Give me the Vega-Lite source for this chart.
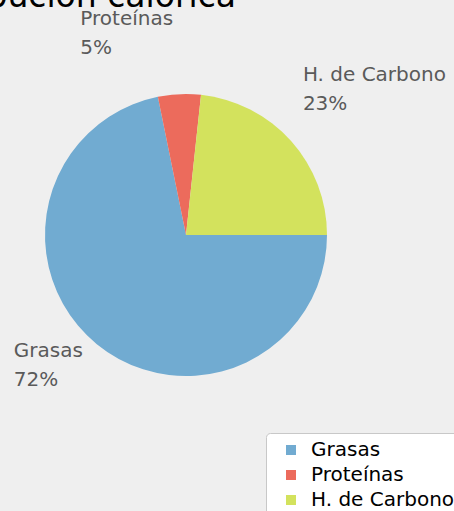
{
  "$schema": "https://vega.github.io/schema/vega-lite/v6.json",
  "width": 372,
  "height": 470,
  "autosize": {"type": "none"},
  "padding": {"left": 0, "top": 0, "right": 82, "bottom": 41},
  "background": "#efefef",
  "title": {
    "text": "Distribución calórica",
    "anchor": "start",
    "frame": "group",
    "orient": "top",
    "fontSize": 33,
    "font": "DejaVu Sans",
    "fontWeight": "normal",
    "color": "#000000",
    "baseline": "alphabetic",
    "offset": 0,
    "dx": -101,
    "dy": 40
  },
  "data": {
    "values": [
      {"categoria": "Grasas", "valor": 71.8, "orden": 1, "etiqueta": "Grasas\n72%"},
      {"categoria": "Proteínas", "valor": 4.9, "orden": 2, "etiqueta": "Proteínas\n5%"},
      {"categoria": "H. de Carbono", "valor": 23.3, "orden": 3, "etiqueta": "H. de Carbono\n23%"}
    ]
  },
  "encoding": {
    "theta": {"field": "valor", "type": "quantitative", "stack": true, "scale": {"range": [1.5708, 7.854]}},
    "order": {"field": "orden", "type": "quantitative"}
  },
  "layer": [
    {
      "mark": {"type": "arc", "outerRadius": 141},
      "encoding": {
        "color": {
          "field": "categoria",
          "type": "nominal",
          "sort": null,
          "scale": {"domain": ["Grasas", "Proteínas", "H. de Carbono"], "range": ["#71abd1", "#ec6b5c", "#d3e25d"]},
          "legend": {"title": null}
        }
      }
    },
    {
      "mark": {"type": "text", "radius": 141, "align": "left", "baseline": "alphabetic", "dx": -99, "dy": -69, "lineBreak": "\n", "lineHeight": 29, "fontSize": 20, "font": "DejaVu Sans", "color": "#5a5a5a"},
      "encoding": {
        "detail": {"field": "categoria", "type": "nominal"},
        "text": {"condition": {"test": "datum.categoria === 'Proteínas'", "field": "etiqueta"}, "value": ""}
      }
    },
    {
      "mark": {"type": "text", "radius": 141, "align": "left", "baseline": "alphabetic", "dx": 12, "dy": -60, "lineBreak": "\n", "lineHeight": 29, "fontSize": 20, "font": "DejaVu Sans", "color": "#5a5a5a"},
      "encoding": {
        "detail": {"field": "categoria", "type": "nominal"},
        "text": {"condition": {"test": "datum.categoria === 'H. de Carbono'", "field": "etiqueta"}, "value": ""}
      }
    },
    {
      "mark": {"type": "text", "radius": 141, "align": "left", "baseline": "alphabetic", "dx": -83, "dy": 13, "lineBreak": "\n", "lineHeight": 29, "fontSize": 20, "font": "DejaVu Sans", "color": "#5a5a5a"},
      "encoding": {
        "detail": {"field": "categoria", "type": "nominal"},
        "text": {"condition": {"test": "datum.categoria === 'Grasas'", "field": "etiqueta"}, "value": ""}
      }
    }
  ],
  "config": {
    "view": {"stroke": null},
    "legend": {
      "orient": "none",
      "legendX": 266,
      "legendY": 433,
      "direction": "vertical",
      "fillColor": "#ffffff",
      "strokeColor": "#c8c8c8",
      "cornerRadius": 4,
      "padding": 7,
      "symbolType": "square",
      "symbolSize": 100,
      "symbolOffset": 8,
      "symbolStrokeWidth": 0,
      "labelOffset": 10,
      "labelFontSize": 20,
      "labelFont": "DejaVu Sans",
      "labelColor": "#000000",
      "rowPadding": 5,
      "labelLimit": 300
    }
  }
}
